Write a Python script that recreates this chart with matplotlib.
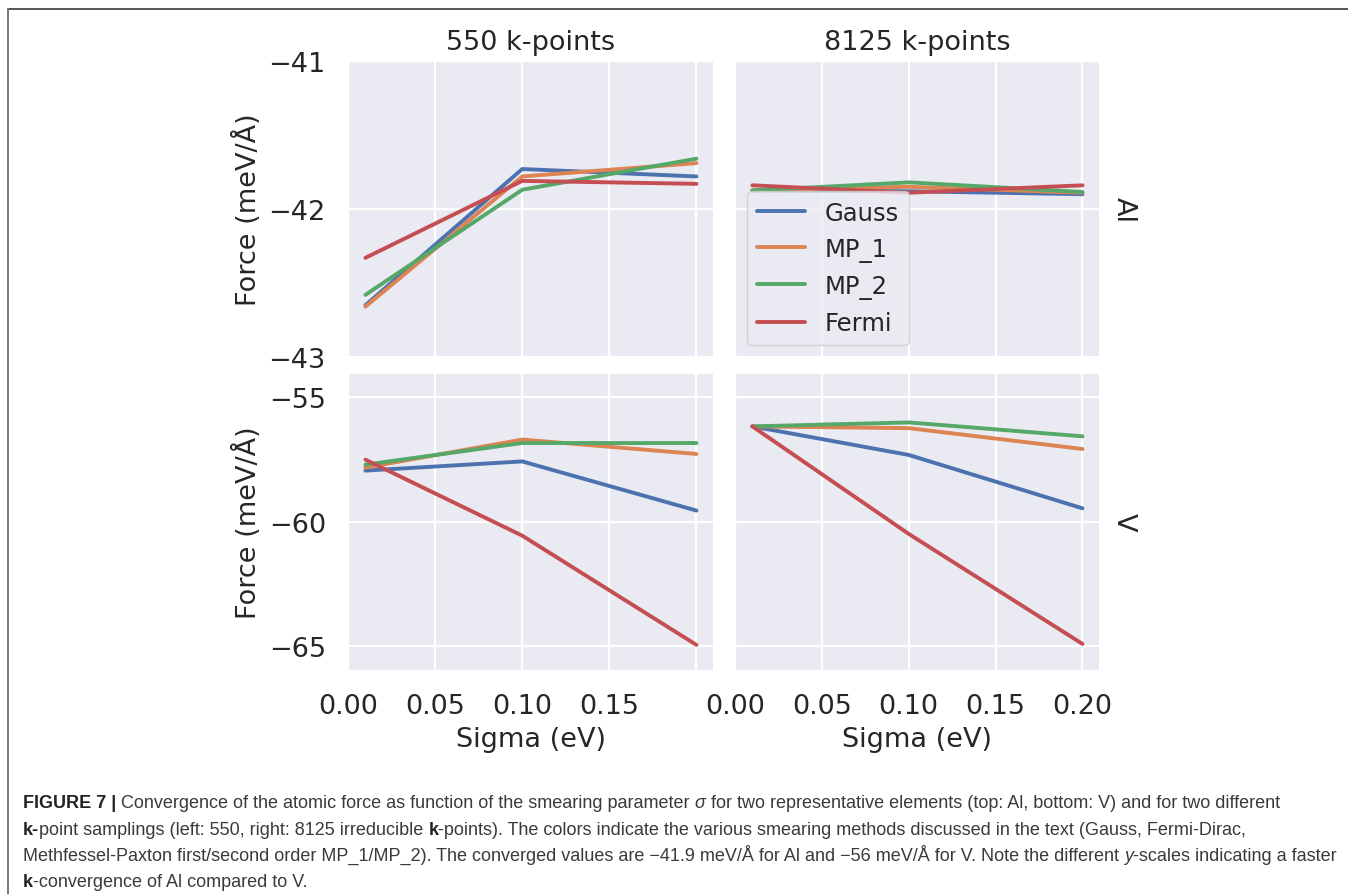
import matplotlib

matplotlib.use("Agg")
import matplotlib.pyplot as plt
from matplotlib.lines import Line2D

# --- data ------------------------------------------------------------------
sigma = [0.01, 0.10, 0.20]
methods = ["Gauss", "MP_1", "MP_2", "Fermi"]
colors = ["#4C72B0", "#DD8452", "#55A868", "#C44E52"]
col_titles = ["550 k-points", "8125 k-points"]
row_labels = ["Al", "V"]

al_550 = {
    "Gauss": [-42.65, -41.73, -41.78],
    "MP_1": [-42.66, -41.78, -41.69],
    "MP_2": [-42.58, -41.87, -41.66],
    "Fermi": [-42.33, -41.81, -41.83],
}
al_8125 = {
    "Gauss": [-41.875, -41.88, -41.90],
    "MP_1": [-41.875, -41.85, -41.89],
    "MP_2": [-41.875, -41.82, -41.885],
    "Fermi": [-41.84, -41.89, -41.84],
}
v_550 = {
    "Gauss": [-57.95, -57.58, -59.56],
    "MP_1": [-57.83, -56.70, -57.28],
    "MP_2": [-57.71, -56.84, -56.84],
    "Fermi": [-57.51, -60.57, -64.97],
}
v_8125 = {
    "Gauss": [-56.17, -57.32, -59.47],
    "MP_1": [-56.17, -56.24, -57.08],
    "MP_2": [-56.17, -56.01, -56.57],
    "Fermi": [-56.17, -60.50, -64.93],
}

x_ticks = [0.00, 0.05, 0.10, 0.15, 0.20]
al_ticks = [-43, -42, -41]
v_ticks = [-65, -60, -55]

caption_lines = [
    [("FIGURE 7 |", "bold"), (" Convergence of the atomic force as function of the smearing parameter ", "normal"),
     ("σ", "italic"), (" for two representative elements (top: Al, bottom: V) and for two different", "normal")],
    [("k-", "bold"), ("point samplings (left: 550, right: 8125 irreducible ", "normal"), ("k", "bold"),
     ("-points). The colors indicate the various smearing methods discussed in the text (Gauss, Fermi-Dirac,", "normal")],
    [("Methfessel-Paxton first/second order MP_1/MP_2). The converged values are \u221241.9 meV/Å for Al and "
      "\u221256 meV/Å for V. Note the different ", "normal"), ("y", "italic"),
     ("-scales indicating a faster", "normal")],
    [("k", "bold"), ("-convergence of Al compared to V.", "normal")],
]

# --- figure -----------------------------------------------------------------
W, H = 1348, 895
TEXT = "#262626"
BG = "#EAEAF2"
FS = 19.5

plt.rcParams["font.family"] = ["DejaVu Sans"]
fig = plt.figure(figsize=(W / 100, H / 100), dpi=100)
fig.patch.set_facecolor("white")


def px_axes(left, top, right, bottom):
    return fig.add_axes([left / W, 1 - bottom / H, (right - left) / W, (bottom - top) / H])


axes = [
    [px_axes(348, 62, 713, 358), px_axes(735, 62, 1099, 358)],
    [px_axes(348, 375, 713, 670.5), px_axes(735, 375, 1099, 670.5)],
]
panel_data = [[al_550, al_8125], [v_550, v_8125]]
y_ticks = [al_ticks, v_ticks]
y_limits = [(-43, -41), (-65.96, -54.06)]

for r in range(2):
    for c in range(2):
        ax = axes[r][c]
        ax.set_facecolor(BG)
        for spine in ax.spines.values():
            spine.set_visible(False)
        ax.grid(True, color="white", linewidth=1.6)
        ax.set_axisbelow(True)
        for name, color in zip(methods, colors):
            ax.plot(sigma, panel_data[r][c][name], color=color, linewidth=2.8, label=name,
                    solid_capstyle="round")
        ax.set_xlim(0.0, 0.2095)
        ax.set_ylim(*y_limits[r])
        ax.set_xticks(x_ticks)
        ax.set_yticks(y_ticks[r])
        ax.tick_params(axis="both", length=0, labelsize=FS, labelcolor=TEXT)
        ax.tick_params(axis="y", pad=16)
        ax.tick_params(axis="x", pad=17)
        if r == 0:
            ax.set_xticklabels([])
            ax.set_title(col_titles[c], fontsize=FS, color=TEXT, pad=9)
        else:
            labels = [f"{t:.2f}" for t in x_ticks]
            if c == 0:
                labels[-1] = ""
            ax.set_xticklabels(labels)
            ax.set_xlabel("Sigma (eV)", fontsize=FS, color=TEXT)
            ax.xaxis.set_label_coords(0.5, -0.19)
            ax.xaxis.label.set_verticalalignment("top")
        if c == 1:
            ax.set_yticklabels([])
            ax.text(1.068, 0.5, row_labels[r], transform=ax.transAxes, rotation=270,
                    ha="center", va="center", fontsize=FS, color=TEXT)
        else:
            ax.set_ylabel("Force (meV/Å)", fontsize=FS, color=TEXT)
            ax.yaxis.set_label_coords(-0.236, 0.5)

leg = axes[0][1].legend(loc="lower left", fontsize=17.5, frameon=True, borderaxespad=0.5)
leg.get_frame().set_facecolor(BG)
leg.get_frame().set_edgecolor("#CCCCCC")
for text in leg.get_texts():
    text.set_color(TEXT)

# --- frame and caption ------------------------------------------------------
fig.add_artist(Line2D([8 / W, 1], [1 - 10 / H, 1 - 10 / H], transform=fig.transFigure,
                      color="#555555", linewidth=1.4))
fig.add_artist(Line2D([8 / W, 8 / W], [0, 1 - 10 / H], transform=fig.transFigure,
                      color="#777777", linewidth=1.4))

CAP_FS = 12.95
CAP_COLOR = "#3A3A3A"
renderer = fig.canvas.get_renderer()


def text_width(s, weight="normal", style="normal"):
    t = fig.text(0, 0, s, fontsize=CAP_FS, family="Liberation Sans", weight=weight, style=style)
    w = t.get_window_extent(renderer).width
    t.remove()
    return w


space_w = text_width("a a") - text_width("aa")


def draw_runs(x_px, baseline_px, runs):
    x = x_px
    for s, kind in runs:
        weight = "bold" if kind == "bold" else "normal"
        style = "italic" if kind == "italic" else "normal"
        lead = len(s) - len(s.lstrip(" "))
        trail = len(s) - len(s.rstrip(" "))
        core = s.strip(" ")
        x += lead * space_w
        t = fig.text(x / W, 1 - baseline_px / H, core, fontsize=CAP_FS, family="Liberation Sans",
                     weight=weight, style=style, color="#222222" if kind == "bold" else CAP_COLOR,
                     ha="left", va="baseline")
        x += t.get_window_extent(renderer).width + trail * space_w


for i, runs in enumerate(caption_lines):
    draw_runs(23, 808.5 + 26.2 * i, runs)

fig.savefig("out.png", dpi=100)
